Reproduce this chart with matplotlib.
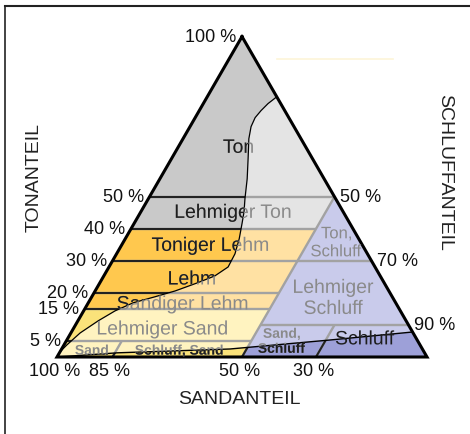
import numpy as np
import matplotlib
matplotlib.use("Agg")
import matplotlib.pyplot as plt
import matplotlib.transforms as mtransforms
from matplotlib.patches import Polygon, PathPatch
from matplotlib.path import Path
from matplotlib.lines import Line2D
from matplotlib.textpath import TextPath
from matplotlib.font_manager import FontProperties

plt.rcParams['font.family'] = ['Liberation Sans', 'DejaVu Sans']

# ---- soil texture classes, vertices given as (clay %, silt %) ----
class_names = ["Ton", "Lehmiger Ton", "Toniger Lehm", "Lehm", "Sandiger Lehm",
               "Lehmiger Sand", "Sand", "Schluff, Sand", "Ton, Schluff",
               "Lehmiger Schluff", "Sand, Schluff", "Schluff"]
class_vertices = [
    [(100, 0), (50, 0), (50, 50)],
    [(50, 0), (40, 0), (40, 50), (50, 50)],
    [(40, 0), (30, 0), (30, 50), (40, 50)],
    [(30, 0), (20, 0), (20, 50), (30, 50)],
    [(20, 0), (15, 0), (15, 50), (20, 50)],
    [(15, 0), (5, 0), (5, 50), (15, 50)],
    [(5, 0), (0, 0), (0, 15), (5, 15)],
    [(5, 15), (0, 15), (0, 50), (5, 50)],
    [(50, 50), (30, 50), (30, 70)],
    [(30, 50), (10, 50), (10, 90), (30, 70)],
    [(10, 50), (0, 50), (0, 70), (10, 70)],
    [(10, 70), (0, 70), (0, 100), (10, 90)],
]
class_group = ["clay", "clay", "loam", "loam", "loam", "sand", "sand", "sand",
               "silt", "silt", "silt", "silt"]

# class borders as (clay %, silt %) end points
border_segments = [
    ((50, 0), (50, 50)), ((40, 0), (40, 50)), ((30, 0), (30, 70)),
    ((20, 0), (20, 50)), ((15, 0), (15, 50)), ((10, 50), (10, 90)),
    ((5, 0), (5, 50)), ((0, 50), (50, 50)), ((0, 15), (5, 15)),
    ((0, 70), (10, 70)),
]

# grain-size band: upper and lower bounding curves (clay %, silt %)
upper_clay = [0, 1.6, 3.8, 7.5, 11.3, 14.4, 16.9, 18.8, 20.6, 23.1, 25.3, 28.1,
              32.2, 36.9, 41.6, 45.3, 49.4, 55.6, 61.9, 68.1, 71.9, 74.7, 76.9,
              79.1, 81.2]
upper_silt = [0, 0.0, 0.8, 2.5, 5.5, 8.5, 12.1, 17.1, 21.6, 26.3, 30.0, 32.2,
              32.0, 30.8, 29.2, 27.9, 26.1, 23.6, 20.7, 17.8, 16.5, 16.2, 16.7,
              17.5, 18.8]
lower_clay = [0, 1.3, 2.5, 5.3, 7.8]
lower_silt = [0, 15.6, 45.5, 71.1, 92.2]

# axis ticks
clay_ticks = [100, 50, 40, 30, 20, 15, 5]
silt_ticks = [50, 70, 90]
sand_ticks = [100, 85, 50, 30]

# label anchors (clay %, silt %)
label_texts = ["Ton", "Lehmiger Ton", "Toniger Lehm", "Lehm", "Sandiger Lehm",
               "Lehmiger Sand", "Sand", "Schluff, Sand", "Ton,\nSchluff",
               "Lehmiger\nSchluff", "Sand,\nSchluff", "Schluff"]
label_pos = [(65.9, 16.0), (45.6, 24.8), (35.3, 23.7), (24.8, 24.1),
             (17.0, 25.4), (9.2, 23.9), (2.3, 8.2), (2.3, 31.8),
             (36.1, 57.4), (18.9, 65.3), (5.2, 58.1), (6.1, 80.2)]
label_size = [14, 14, 14, 14, 14, 14, 10, 10, 12, 14, 10, 14]
label_bold = [False] * 6 + [True, True, False, False, True, False]
label_always_dark = [False] * 11 + [True]

light = {"clay": "#e4e4e4", "loam": "#ffe1a3", "sand": "#fff3c0", "silt": "#c9cbeb"}
dark = {"clay": "#c9c9c9", "loam": "#ffc84e", "sand": "#fae27a", "silt": "#9da0d8"}
TEXT_DARK = "#1e1e1e"
TEXT_LIGHT = "#8a8a8a"

H = np.sqrt(3) / 2
DPI = 100


def tern(clay, silt):
    clay = np.asarray(clay, dtype=float) / 100
    silt = np.asarray(silt, dtype=float) / 100
    return silt + clay / 2, clay * H


fig = plt.figure(figsize=(4.70, 4.35), dpi=DPI)
ax = fig.add_axes([0, 0, 1, 1])
ax.set_xlim(-57 / 370, 413 / 370)
ax.set_ylim(-77 / 370, 358 / 370)
ax.set_autoscale_on(False)
ax.axis("off")

# highlighted band: left of the upper curve and below the lower curve
ux, uy = tern(upper_clay, upper_silt)
lx, ly = tern(lower_clay, lower_silt)
apex = tern(100, 0)
silt_corner = tern(0, 100)
poly_a = list(zip(ux, uy)) + [apex, (ux[0], uy[0])]
poly_b = list(zip(lx, ly)) + [silt_corner, (lx[0], ly[0])]
verts = poly_a + poly_b
codes = ([Path.MOVETO] + [Path.LINETO] * (len(poly_a) - 2) + [Path.CLOSEPOLY] +
         [Path.MOVETO] + [Path.LINETO] * (len(poly_b) - 2) + [Path.CLOSEPOLY])
band = PathPatch(Path(verts, codes), transform=ax.transData)

for verts_t, grp in zip(class_vertices, class_group):
    c, s = zip(*verts_t)
    x, y = tern(c, s)
    xy = np.column_stack([x, y])
    ax.add_patch(Polygon(xy, closed=True, fc=light[grp], ec="none", zorder=1))
    p = Polygon(xy, closed=True, fc=dark[grp], ec="none", zorder=1.1)
    ax.add_patch(p)
    p.set_clip_path(band)

for (c0, s0), (c1, s1) in border_segments:
    x, y = tern([c0, c1], [s0, s1])
    ax.plot(x, y, color="#a2a2a2", lw=1.7, zorder=2, solid_capstyle="butt")
    ln, = ax.plot(x, y, color="#222222", lw=1.5, zorder=2.1, solid_capstyle="butt")
    ln.set_clip_path(band)

ax.plot(ux, uy, color="black", lw=0.9, zorder=3)
ax.plot(lx, ly, color="black", lw=1.0, zorder=3)


def outline_label(x, y, txt, fs, bold, color, clip=None, linespacing=1.08):
    """Draw a (possibly multi-line) label as glyph outlines centred on x, y."""
    fp = FontProperties(family="Liberation Sans", weight="bold" if bold else "normal")
    lines = txt.split("\n")
    n = len(lines)
    step = fs * linespacing
    cap = 0.716 * fs
    disp = ax.transData.transform((x, y))
    for i, line in enumerate(lines):
        tp = TextPath((0, 0), line, size=fs, prop=fp)
        ext = tp.get_extents()
        xc = (ext.x0 + ext.x1) / 2
        cy = ((n - 1) / 2 - i) * step
        base = cy - cap / 2
        trf = (mtransforms.Affine2D().translate(-xc, base).scale(DPI / 72)
               .translate(*disp))
        patch = PathPatch(tp, transform=trf, fc=color, ec="none", lw=0, zorder=4)
        fig.add_artist(patch)
        if clip is not None:
            patch.set_clip_path(clip)


for txt, (c, s), fs, bold, always in zip(label_texts, label_pos, label_size,
                                          label_bold, label_always_dark):
    x, y = tern(c, s)
    if always:
        outline_label(x, y, txt, fs, bold, TEXT_DARK)
    else:
        outline_label(x, y, txt, fs, bold, TEXT_LIGHT)
        outline_label(x, y, txt, fs, bold, TEXT_DARK, clip=band)

# outer triangle
tx, ty = tern([100, 0, 0, 100], [0, 0, 100, 0])
ax.plot(tx, ty, color="black", lw=2.2, zorder=5, solid_joinstyle="miter")

tick_kw = dict(textcoords="offset points", fontsize=13, color="#111111",
               annotation_clip=False)
for v in clay_ticks:
    ax.annotate(f"{v} %", tern(v, 0), xytext=(-4, 0), ha="right", va="center", **tick_kw)
for v in silt_ticks:
    ax.annotate(f"{v} %", tern(100 - v, v), xytext=(4, 0), ha="left", va="center", **tick_kw)
for v in sand_ticks:
    ax.annotate(f"{v} %", tern(0, 100 - v), xytext=(-2, -3.5), ha="center", va="top", **tick_kw)

ax.text(34.5 / 470, 1 - 177.5 / 435, "TONANTEIL", transform=fig.transFigure,
        rotation=90, ha="center", va="center", fontsize=14, color="#222222")
ax.text(444.5 / 470, 1 - 172.5 / 435, "SCHLUFFANTEIL", transform=fig.transFigure,
        rotation=-90, ha="center", va="center", fontsize=14, color="#222222")
ax.text(239.5 / 470, 1 - 400 / 435, "SANDANTEIL", transform=fig.transFigure,
        ha="center", va="center", fontsize=14, color="#222222")

# frame
fig.add_artist(Line2D([4.5 / 470, 1], [1 - 6.5 / 435, 1 - 6.5 / 435],
                      transform=fig.transFigure, color="#222222", lw=1.5))
fig.add_artist(Line2D([4.5 / 470, 4.5 / 470], [0, 1 - 6.5 / 435],
                      transform=fig.transFigure, color="#222222", lw=1.2))
fig.add_artist(Line2D([277 / 470, 393 / 470], [1 - 60 / 435, 1 - 60 / 435],
                      transform=fig.transFigure, color="#fdf5d8", lw=1.2))

fig.savefig("out.png", dpi=DPI, facecolor="white")
